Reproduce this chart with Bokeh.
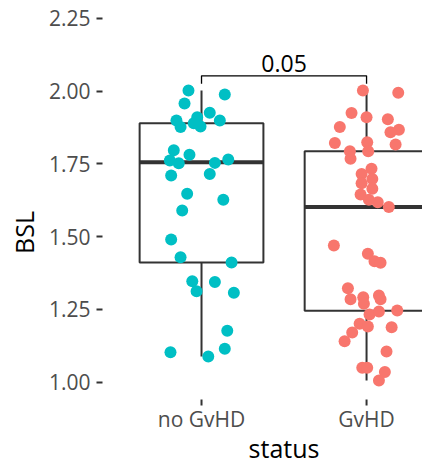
from bokeh.plotting import figure
from bokeh.models import Range1d, FixedTicker
from bokeh.embed import file_html
from bokeh.resources import INLINE
from bokeh.core.properties import value

# ---------------- data ----------------
categories = ["no GvHD", "GvHD"]
cat_pos = [1, 2]
colors = ["#00BFC4", "#F8766D"]

nogvhd_bsl = [2.002, 1.988, 1.957, 1.925, 1.899, 1.899, 1.876, 1.910, 1.889, 1.878,
              1.796, 1.781, 1.761, 1.752, 1.753, 1.765, 1.710, 1.715, 1.647, 1.626,
              1.589, 1.490, 1.429, 1.411, 1.346, 1.344, 1.312, 1.307, 1.176, 1.114,
              1.102, 1.088]
nogvhd_jitter = [-0.079, 0.141, -0.103, 0.050, 0.111, -0.152, -0.127, -0.026, -0.047, -0.006,
                 -0.168, -0.073, -0.192, -0.138, 0.081, 0.162, -0.184, 0.050, -0.087, 0.132,
                 -0.117, -0.184, -0.127, 0.182, -0.056, 0.081, -0.030, 0.196, 0.156, 0.141,
                 -0.188, 0.041]

gvhd_bsl = [2.002, 1.994, 1.924, 1.910, 1.903, 1.876, 1.867, 1.858, 1.821, 1.824,
            1.816, 1.793, 1.793, 1.767, 1.733, 1.715, 1.698, 1.683, 1.664, 1.644,
            1.626, 1.618, 1.601, 1.469, 1.441, 1.415, 1.410, 1.322, 1.284, 1.291,
            1.269, 1.297, 1.284, 1.232, 1.242, 1.246, 1.200, 1.191, 1.188, 1.170,
            1.140, 1.105, 1.049, 1.049, 1.034, 1.005]
gvhd_jitter = [-0.022, 0.192, -0.091, 0.000, 0.129, -0.162, 0.196, 0.145, -0.192, 0.004,
               0.176, -0.101, 0.010, -0.097, 0.030, -0.030, 0.035, -0.030, 0.035, -0.036,
               0.014, 0.068, 0.135, -0.198, 0.008, 0.048, 0.085, -0.113, -0.097, -0.020,
               -0.016, 0.075, 0.085, 0.018, 0.075, 0.186, -0.042, 0.008, 0.152, -0.087,
               -0.133, 0.121, -0.026, 0.004, 0.111, 0.075]

box_q1 = [1.411, 1.245]
box_median = [1.755, 1.601]
box_q3 = [1.889, 1.793]
whisker_low = [1.088, 1.005]
whisker_high = [2.002, 2.002]

y_ticks = [1.00, 1.25, 1.50, 1.75, 2.00, 2.25]
y_tick_labels = ["1.00", "1.25", "1.50", "1.75", "2.00", "2.25"]

p_value_label = "0.05"
bracket_top = 2.052
bracket_tip = 2.025

x_title = "status"
y_title = "BSL"

# ---------------- styling / layout ----------------
FONT = "Open Sans"
BOX_HALF = 0.375
DARK = "#333333"
PX = 1 / 291.0              # one screen pixel in data units (y)
PANEL_BOTTOM = 0.9399       # bottom of the reference panel (data units)

p = figure(width=422, height=464, output_backend="svg", toolbar_location=None,
           title=None, x_axis_location=None,
           x_range=Range1d(0.4, 2.339), y_range=Range1d(0.7165, 2.311),
           min_border_left=102, min_border_right=0, min_border_top=0,
           min_border_bottom=0)
p.outline_line_color = None
p.xgrid.visible = False
p.ygrid.visible = False
p.background_fill_color = "white"

# y axis
ax = p.yaxis[0]
ax.axis_line_color = None
ax.major_tick_line_color = DARK
ax.major_tick_line_width = 2
ax.major_tick_out = 6
ax.major_tick_in = 0
ax.minor_tick_line_color = None
ax.major_label_text_font = FONT
ax.major_label_text_font_size = "21px"
ax.major_label_text_color = "#4D4D4D"
ax.ticker = FixedTicker(ticks=y_ticks)
ax.major_label_overrides = dict(zip(y_ticks, y_tick_labels))
ax.major_label_standoff = 6
ax.axis_label = y_title
ax.axis_label_text_font = FONT
ax.axis_label_text_font_size = "25px"
ax.axis_label_text_font_style = "normal"
ax.axis_label_text_color = "black"
ax.axis_label_standoff = 5

# x axis (ticks + labels + title) drawn below the reference panel
p.segment(x0=cat_pos, x1=cat_pos, y0=[PANEL_BOTTOM] * 2,
          y1=[PANEL_BOTTOM - 6 * PX] * 2, line_color=DARK, line_width=2)
p.text(x=cat_pos, y=[PANEL_BOTTOM - 19.6 * PX] * 2, text=categories,
       text_align="center", text_baseline="middle", text_font=value(FONT),
       text_font_size="21px", text_color="#4D4D4D")
p.text(x=[(cat_pos[0] + cat_pos[1]) / 2], y=[PANEL_BOTTOM - 48.6 * PX], text=[x_title],
       text_align="center", text_baseline="middle", text_font=value(FONT),
       text_font_size="25px", text_color="black")

# whiskers
for i, c in enumerate(cat_pos):
    p.segment(x0=[c, c], x1=[c, c], y0=[box_q3[i], box_q1[i]],
              y1=[whisker_high[i], whisker_low[i]], line_color=DARK, line_width=2)

# boxes
p.quad(left=[c - BOX_HALF for c in cat_pos], right=[c + BOX_HALF for c in cat_pos],
       bottom=box_q1, top=box_q3, fill_color="white", line_color=DARK, line_width=2)
p.segment(x0=[c - BOX_HALF for c in cat_pos], x1=[c + BOX_HALF for c in cat_pos],
          y0=box_median, y1=box_median, line_color=DARK, line_width=4)

# points
p.scatter(x=[cat_pos[0] + j for j in nogvhd_jitter], y=nogvhd_bsl, size=12,
          fill_color=colors[0], line_color=None)
p.scatter(x=[cat_pos[1] + j for j in gvhd_jitter], y=gvhd_bsl, size=12,
          fill_color=colors[1], line_color=None)

# significance bracket
p.line(x=[cat_pos[0], cat_pos[0], cat_pos[1], cat_pos[1]],
       y=[bracket_tip, bracket_top, bracket_top, bracket_tip],
       line_color="black", line_width=1.3)
p.text(x=[(cat_pos[0] + cat_pos[1]) / 2], y=[bracket_top + 12.5 * PX], text=[p_value_label],
       text_align="center", text_baseline="middle", text_font=value(FONT),
       text_font_size="23px", text_color="black")

open("out.html", "w").write(file_html(p, INLINE))
